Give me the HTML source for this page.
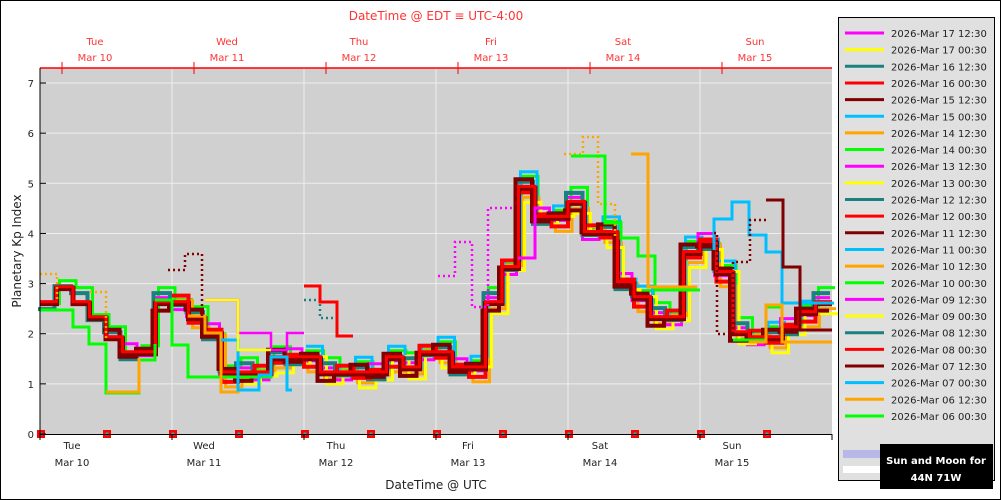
<!DOCTYPE html><html><head><meta charset="utf-8"><style>
body{margin:0;background:#fff}
svg{display:block;font-family:"DejaVu Sans","Liberation Sans",sans-serif}
</style></head><body>
<svg id="s" width="1001" height="500" xmlns="http://www.w3.org/2000/svg">
<rect x="0.5" y="0.5" width="1000" height="499" fill="#fff" stroke="#000"/>
<rect x="40" y="68" width="792" height="366" fill="#d0d0d0"/>
<g id="grid" stroke="#eee" stroke-width="1"></g>
<g id="series" fill="none" stroke-linejoin="miter"></g>
<line x1="40" y1="68" x2="832" y2="68" stroke="#f00" stroke-width="1.5"/>
<line x1="40" y1="68" x2="40" y2="435" stroke="#000"/>
<line x1="40" y1="434.5" x2="832" y2="434.5" stroke="#000"/>
<g id="ax" font-size="10"></g>
<text x="436" y="20" font-size="12" fill="#f33" text-anchor="middle">DateTime @ EDT ≡ UTC-4:00</text>
<text x="436" y="489" font-size="12" fill="#222" text-anchor="middle">DateTime @ UTC</text>
<text transform="translate(21,251) rotate(-90)" font-size="12" fill="#222" text-anchor="middle">Planetary Kp Index</text>
<rect x="838.5" y="17.5" width="156" height="463" fill="#e0e0e0" stroke="#000"/>
<g id="leg" font-size="10" fill="#222"></g>
<rect x="843" y="450" width="38" height="8" fill="#b8b8e8"/>
<rect x="843" y="466" width="38" height="7" fill="#fff"/>
<rect x="880" y="444" width="113" height="45" fill="#000"/>
<text x="936" y="464" font-size="10" font-weight="bold" fill="#fff" text-anchor="middle">Sun and Moon for</text>
<text x="936" y="481" font-size="10" font-weight="bold" fill="#fff" text-anchor="middle">44N 71W</text>
</svg>
<script>
const NS="http://www.w3.org/2000/svg";
function el(p,t,a,txt){const e=document.createElementNS(NS,t);for(const k in a)e.setAttribute(k,a[k]);if(txt!==undefined)e.textContent=txt;p.appendChild(e);return e;}
const g=document.getElementById('grid'),ax=document.getElementById('ax'),S=document.getElementById('series'),L=document.getElementById('leg');
const Y=k=>434-50.14*k;
for(let k=1;k<=7;k++){el(g,'line',{x1:40,x2:832,y1:Y(k),y2:Y(k)});}
const days=["Tue","Wed","Thu","Fri","Sat","Sun"],dates=["Mar 10","Mar 11","Mar 12","Mar 13","Mar 14","Mar 15"];
for(let d=0;d<6;d++){const x=40+132*d;if(d>0)el(g,'line',{x1:x,x2:x,y1:68,y2:434});
el(ax,'line',{x1:x,x2:x,y1:434,y2:440,stroke:'#000'});
el(ax,'text',{x:x+32,y:449,'text-anchor':'middle',fill:'#222'},days[d]);
el(ax,'text',{x:x+32,y:466,'text-anchor':'middle',fill:'#222'},dates[d]);
const tx=x+22;el(ax,'line',{x1:tx,x2:tx,y1:62,y2:74,stroke:'#f00'});
el(ax,'text',{x:tx+33,y:45,'text-anchor':'middle',fill:'#f33'},days[d]);
el(ax,'text',{x:tx+33,y:61,'text-anchor':'middle',fill:'#f33'},dates[d]);}
el(ax,'line',{x1:832,x2:832,y1:434,y2:440,stroke:'#000'});
for(let k=0;k<=7;k++){el(ax,'line',{x1:40,x2:46,y1:Y(k),y2:Y(k),stroke:'#000'});el(ax,'text',{x:34,y:Y(k)+4,'text-anchor':'end',fill:'#222'},k);}
const V=[2.6,2.9,2.6,2.3,1.9,1.6,1.6,2.6,2.6,2.3,2.0,1.2,1.2,1.2,1.5,1.5,1.5,1.2,1.2,1.2,1.2,1.5,1.3,1.6,1.6,1.3,1.3,2.6,3.3,4.9,4.3,4.3,4.6,4.0,4.0,3.0,2.7,2.3,2.3,3.6,3.8,3.2,2.0,1.9,1.9,2.1,2.4,2.6];
function step(vals,x0,w,dy){let d='';vals.forEach((v,i)=>{if(v==null)return;const x=x0+i*w,y=Y(v)+dy;d+=(d?'L':'M')+x+','+y+'L'+(x+w)+','+y;});return d;}
function draw(d,c,sw,dash){const a={d:d,stroke:c,'stroke-width':sw};if(dash)a['stroke-dasharray']=dash;el(S,'path',a);}
const cols=[["#00ff00",0,3,-3,0.1],["#ffa500",2,4,0,-0.1],["#00bfff",4,2,-1,0.15],["#ff00ff",1,-2,-2,0],["#ffff00",3,6,-4,-0.2],["#1a8080",0,-2,0,0.05],["#ff0000",2,0,0,0],["#800000",1,-3,0,0.02]];
cols.forEach(([c,st,dx,dy,dv],j)=>{const vals=V.map((v,i)=>i<st*4?null:Math.max(0.8,v+((i*7+j*3)%5-2)*0.08+dv));draw(step(vals,40+dx,16.5,dy),c,j>=5?4:3);});
draw(step(V,40,16.5,0),"#800000",5);draw(step(V,40,16.5,-2),"#ff0000",3);
// early low lines
draw("M40,310L73,310L73,327L89,327L89,344L106,344L106,393L139,393L139,360L155,360L155,344","#00ff00",3);
draw("M106,392L139,392L139,358","#ffa500",3);
draw("M155,300L172,300L172,345L188,345L188,377L221,377L221,377L271,377L271,357","#00ff00",3);
draw("M188,316L205,316L205,333L221,333L221,392L238,392L238,376","#ffa500",3);
draw("M205,300L238,300L238,333L271,333L271,350L287,350L287,333L304,333","#ff00ff",2.5);
draw("M221,340L238,340L238,390L259,390L259,375L271,375L271,357L287,357L287,390L292,390","#00bfff",3);
draw("M205,300L238,300L238,350L271,350","#ffff00",2.5);
// extras
draw("M438,276L455,276L455,242L472,242L472,307L488,307L488,208L512,208","#ff00ff",2.5,"2,3");
draw("M518,258L535,258L535,208L551,208","#ff00ff",3);
draw("M564,154L583,154L583,137L598,137L598,204L615,204L615,238","#ffa500",2.5,"2,3");
draw("M571,156L605,156L605,223L621,223L621,238L638,238L638,256L655,256L655,290L700,290","#00ff00",3);
draw("M631,154L648,154L648,287L697,287","#ffa500",3);
draw("M714,250L714,219L732,219L732,202L749,202L749,235L766,235L766,252L782,252L782,303L832,303","#00bfff",3);
draw("M766,200L783,200L783,267L800,267L800,330L832,330","#800000",3);
draw("M714,233L717,233L717,334L733,334L733,262L750,262L750,220L766,220","#800000",2.5,"2,3");
draw("M168,270L185,270L185,254L202,254L202,335","#800000",2.5,"2,3");
draw("M40,274L57,274L57,300","#ffa500",2.5,"2,3");draw("M90,292L106,292L106,340","#ffa500",2.5,"2,3");
draw("M304,300L320,300L320,318L337,318L337,334","#1a8080",2.5,"2,3");
draw("M304,286L320,286L320,302L337,302L337,336L353,336","#ff0000",3);
draw("M733,340L766,340L766,307L782,307L782,340","#00ff00",3);
draw("M749,342L766,342L766,305L782,305L782,342L832,342","#ffa500",3);
// markers
for(let i=0;i<12;i++){const x=41+66*i;el(S,'rect',{x:x-4,y:430,width:8,height:8,fill:'#f00'});el(S,'rect',{x:x-1.5,y:432.5,width:3,height:3,fill:'#3aa'});}
const lc=["#ff00ff","#ffff00","#1a8080","#ff0000","#800000","#00bfff","#ffa500","#00ff00"];
const ld=["17 12:30","17 00:30","16 12:30","16 00:30","15 12:30","15 00:30","14 12:30","14 00:30","13 12:30","13 00:30","12 12:30","12 00:30","11 12:30","11 00:30","10 12:30","10 00:30","09 12:30","09 00:30","08 12:30","08 00:30","07 12:30","07 00:30","06 12:30","06 00:30"];
ld.forEach((t,i)=>{const y=33+i*16.65;el(L,'line',{x1:845,x2:884,y1:y,y2:y,stroke:lc[i%8],'stroke-width':3});el(L,'text',{x:891,y:y+4},"2026-Mar "+t);});
</script>
</body></html>
